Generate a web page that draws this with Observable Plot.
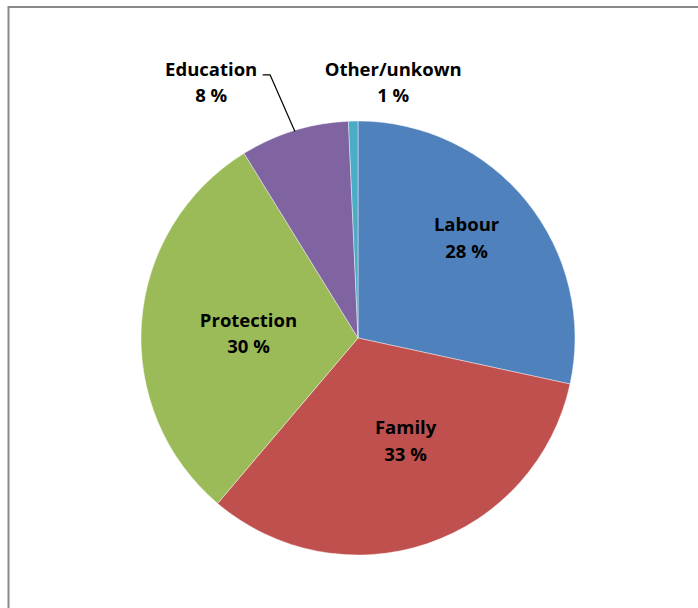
<!DOCTYPE html>
<html>
<head>
<meta charset="utf-8">
<script src="https://cdn.jsdelivr.net/npm/d3@7"></script>
<script src="https://cdn.jsdelivr.net/npm/@observablehq/plot@0.6"></script>
<style>
  html, body { margin: 0; padding: 0; background: #fff; }
  svg { display: block; }
</style>
</head>
<body>
<div id="chart"></div>
<script>
// ---- data ----
const categories = ["Labour", "Family", "Protection", "Education", "Other/unkown"];
const shares = [28.4, 32.8, 30.0, 8.1, 0.7];
const pctLabels = ["28 %", "33 %", "30 %", "8 %", "1 %"];
const colors = ["#4F81BD", "#C0504D", "#9BBB59", "#8064A2", "#4BACC6"];

// ---- layout (in units of pie radius, centre at 0,0, y up) ----
const W = 698, H = 608, R = 217, CX = 358, CY = 338;
const labelPos = {
  "Labour": [0.498, 0.455],
  "Family": [0.217, -0.479],
  "Protection": [-0.507, 0.016],
  "Education": [-0.679, 1.173],
  "Other/unkown": [0.160, 1.173]
};

const data = categories.map((c, i) => ({category: c, value: shares[i], pct: pctLabels[i], color: colors[i]}));
const arcs = d3.pie().sort(null).value(d => d.value)(data);
arcs.forEach(a => { a.mid = (a.startAngle + a.endAngle) / 2; });

const labels = data.map(d => ({
  text: d.category + "\n" + d.pct,
  x: labelPos[d.category][0],
  y: labelPos[d.category][1]
}));

// Leader line for Education: from end of label text, short horizontal, then to arc edge at mid angle
const edu = arcs.find(a => a.data.category === "Education");
const eduL = labelPos["Education"];
const leader = [
  {x: eduL[0] + 52 / R, y: eduL[1] + 9 / R},
  {x: eduL[0] + 59 / R, y: eduL[1] + 9 / R},
  {x: Math.sin(edu.mid), y: Math.cos(edu.mid)}
];

const pieMark = (index, scales) => {
  const x = scales.x, y = scales.y;
  const cx = x(0), cy = y(0), r = x(1) - x(0);
  const g = d3.create("svg:g").attr("transform", `translate(${cx},${cy})`);
  const arcGen = d3.arc().innerRadius(0).outerRadius(r);
  g.selectAll("path").data(arcs).join("path")
    .attr("d", arcGen)
    .attr("fill", d => d.data.color)
    .attr("stroke", "#ffffff")
    .attr("stroke-opacity", 0.6)
    .attr("stroke-width", 0.7);
  return g.node();
};

const chart = Plot.plot({
  width: W,
  height: H,
  margin: 0,
  x: {domain: [-CX / R, (W - CX) / R], axis: null},
  y: {domain: [-(H - CY) / R, CY / R], axis: null},
  marks: [
    Plot.frame({stroke: "#8a8a8a", strokeWidth: 2, insetLeft: 8, insetTop: 6.5, insetRight: -6, insetBottom: -10}),
    pieMark,
    Plot.line(leader, {x: "x", y: "y", stroke: "#000", strokeWidth: 1.2}),
    Plot.text(labels, {
      x: "x", y: "y", text: "text", dy: -3.5,
      fontFamily: "Open Sans", fontWeight: "bold", fontSize: 18.5,
      lineHeight: 1.44, lineAnchor: "middle", textAnchor: "middle",
      fill: "#000"
    })
  ],
  style: {background: "#fff"}
});
document.getElementById("chart").append(chart);
</script>
</body>
</html>
